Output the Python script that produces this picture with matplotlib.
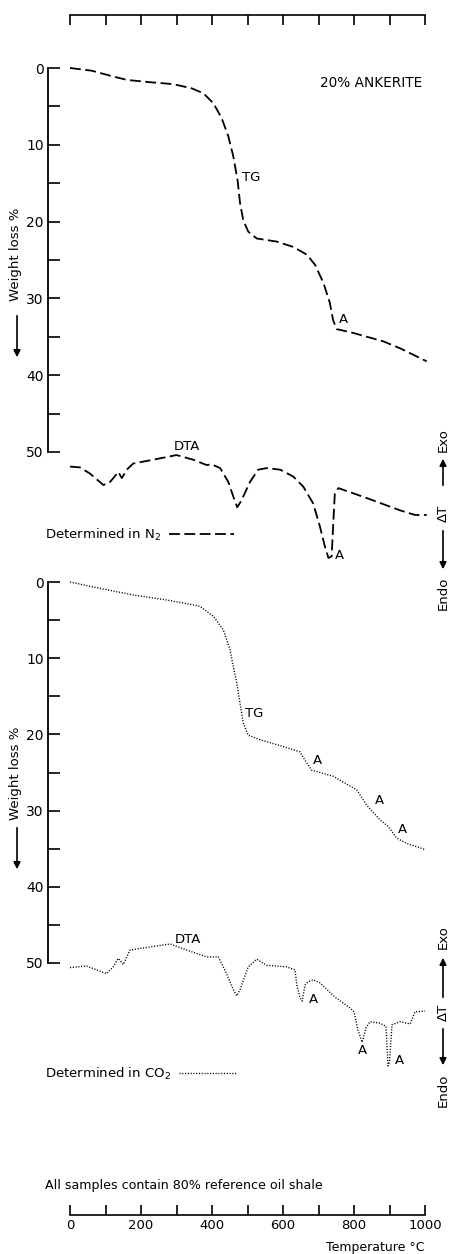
import matplotlib
matplotlib.use("Agg")
import matplotlib.pyplot as plt
from matplotlib.lines import Line2D

plt.rcParams['font.family'] = ['DejaVu Sans']

# ---- data ----
# TG in N2 (weight loss %)
tg_n2_temp = [0, 61, 113, 160, 225, 291, 343, 376, 404, 427, 446, 460, 472, 479, 488, 502,
              526, 582, 629, 667, 690, 714, 732, 741, 751, 798, 883, 930, 1005]
tg_n2_loss = [0, 0.35, 1.0, 1.55, 1.85, 2.1, 2.65, 3.3, 4.6, 6.5, 8.9, 11.5, 14.6, 17.6, 19.8, 21.3,
              22.2, 22.6, 23.3, 24.3, 25.6, 28.0, 30.6, 32.8, 34.0, 34.5, 35.6, 36.5, 38.2]

# DTA in N2 (arbitrary, given on the weight-loss scale)
dta_n2_temp = [0, 28, 56, 94, 113, 136, 146, 160, 178, 235, 300, 347, 385, 399, 423, 446, 460,
               471, 483, 507, 530, 554, 592, 629, 657, 685, 704, 718, 728, 737, 742, 746, 756,
               836, 930, 972, 1005]
dta_n2_val = [51.9, 52.0, 52.8, 54.3, 53.9, 52.6, 53.4, 52.3, 51.5, 51.0, 50.4, 51.0, 51.7, 51.6,
              52.1, 53.9, 55.8, 57.2, 56.3, 53.9, 52.3, 52.1, 52.3, 53.2, 54.5, 56.7, 59.7, 62.3,
              63.8, 63.6, 58.9, 55.4, 54.7, 56.0, 57.6, 58.2, 58.2]

# TG in CO2
tg_co2_temp = [0, 84, 178, 272, 347, 366, 404, 432, 451, 460, 470, 479, 488, 502, 535, 601, 648,
               662, 681, 742, 808, 836, 873, 897, 920, 948, 1000]
tg_co2_loss = [0, 0.83, 1.7, 2.36, 3.0, 3.2, 4.5, 6.3, 8.9, 11.1, 13.3, 15.9, 18.5, 20.1, 20.7,
               21.6, 22.3, 23.4, 24.7, 25.5, 27.3, 29.3, 31.2, 32.1, 33.6, 34.3, 35.1]

# DTA in CO2
dta_co2_temp = [0, 47, 75, 103, 122, 136, 150, 169, 225, 282, 329, 385, 418, 441, 460, 470, 479,
                502, 526, 554, 610, 634, 639, 648, 654, 662, 670, 685, 704, 747, 789, 800, 811,
                823, 834, 845, 873, 890, 896, 900, 907, 930, 958, 972, 1000]
dta_co2_val = [50.6, 50.4, 50.9, 51.4, 50.5, 49.4, 50.2, 48.3, 47.9, 47.5, 48.3, 49.2, 49.2, 51.4,
               53.5, 54.3, 53.5, 50.5, 49.5, 50.3, 50.5, 50.9, 52.9, 54.6, 55.0, 52.9, 52.5, 52.2,
               52.6, 54.5, 55.9, 56.4, 58.8, 60.4, 58.5, 57.7, 57.9, 58.3, 63.5, 63.0, 58.1, 57.7,
               58.0, 56.4, 56.3]

weight_major = [0, 10, 20, 30, 40, 50]
weight_minor = [5, 15, 25, 35, 45]
temp_ticks = [0, 200, 400, 600, 800, 1000]
temp_minor = [100, 300, 500, 700, 900]

# ---- layout helpers (pixels -> figure) ----
W, H = 453, 1254
fig = plt.figure(figsize=(W / 100, H / 100), dpi=100)


def fx(px):
    return px / W


def fy(py):
    return 1 - py / H


X0, X1 = 70, 425


def xd(px):
    return (px - X0) * 1000 / (X1 - X0)


def panel(top_px, bot_px, zero_px, fifty_px):
    ax = fig.add_axes([0, fy(bot_px), 1, (bot_px - top_px) / H])
    ax.set_xlim(xd(0), xd(W))
    k = (fifty_px - zero_px) / 50
    ax.set_ylim((bot_px - zero_px) / k, (top_px - zero_px) / k)
    ax.patch.set_visible(False)
    for s in ['top', 'right', 'bottom']:
        ax.spines[s].set_visible(False)
    ax.spines['left'].set_position(('data', xd(48)))
    ax.spines['left'].set_bounds(0, 50)
    ax.spines['left'].set_linewidth(1.3)
    ax.set_yticks(weight_major)
    ax.set_yticklabels([str(v) for v in weight_major])
    ax.set_yticks(weight_minor, minor=True)
    ax.tick_params(axis='y', which='both', direction='in', length=8.6, width=1.2,
                   labelsize=10, pad=3)
    ax.set_xticks([])
    return ax


ax1 = panel(30, 575, 68, 452)
ax2 = panel(575, 1110, 582, 963)

dash_kw = dict(color='black', lw=1.3, dashes=(6, 2.5), clip_on=False)
dot_kw = dict(color='black', lw=1.0, dashes=(0.8, 1.2), clip_on=False)

ax1.plot(tg_n2_temp, tg_n2_loss, **dash_kw)
ax1.plot(dta_n2_temp, dta_n2_val, **dash_kw)
ax2.plot(tg_co2_temp, tg_co2_loss, **dot_kw)
ax2.plot(dta_co2_temp, dta_co2_val, **dot_kw)

fs = 9.5
ax1.text(485, 14.3, "TG", fontsize=fs, va='center')
ax1.text(757, 32.8, "A", fontsize=fs, va='center')
ax1.text(992, 2.0, "20% ANKERITE", fontsize=9.8, va='center', ha='right')
ax1.text(329, 49.3, "DTA", fontsize=fs, va='center', ha='center')
ax1.text(745, 63.5, "A", fontsize=fs, va='center')

ax2.text(492, 17.2, "TG", fontsize=fs, va='center')
ax2.text(684, 23.4, "A", fontsize=fs, va='center')
ax2.text(858, 28.7, "A", fontsize=fs, va='center')
ax2.text(925, 32.5, "A", fontsize=fs, va='center')
ax2.text(333, 46.9, "DTA", fontsize=fs, va='center', ha='center')
ax2.text(673, 54.8, "A", fontsize=fs, va='center')
ax2.text(811, 61.5, "A", fontsize=fs, va='center')
ax2.text(914, 62.8, "A", fontsize=fs, va='center')

# legends ("Determined in ...")
h1 = Line2D([], [], **{k: v for k, v in dash_kw.items() if k != 'clip_on'})
h2 = Line2D([], [], **{k: v for k, v in dot_kw.items() if k != 'clip_on'})
fig.legend([h1], [r"Determined in N$_2$"], loc='center left', bbox_to_anchor=(fx(33), fy(535)),
           frameon=False, markerfirst=False, handlelength=4.9, handletextpad=0.6, fontsize=fs)
fig.legend([h2], [r"Determined in CO$_2$"], loc='center left', bbox_to_anchor=(fx(33), fy(1074)),
           frameon=False, markerfirst=False, handlelength=4.4, handletextpad=0.6, fontsize=fs)

# weight-loss axis titles with arrows
arrow_kw = dict(arrowstyle='-|>', lw=1.2, color='black', mutation_scale=10)
for c_txt, a0, a1 in [(254, 313, 360), (773, 825, 872)]:
    fig.text(fx(15), fy(c_txt), "Weight loss %", rotation=90, fontsize=fs,
             ha='center', va='center')
    fig.patches.append(matplotlib.patches.FancyArrowPatch(
        (fx(17), fy(a0)), (fx(17), fy(a1)), transform=fig.transFigure, **arrow_kw))

# Exo / dT / Endo markers at the right
for exo_y, up0, up1, dt_y, dn0, dn1, endo_y in [(440, 488, 456, 513, 528, 572, 593),
                                                (937, 1000, 955, 1012, 1026, 1068, 1090)]:
    fig.text(fx(443), fy(exo_y), "Exo", rotation=90, fontsize=fs, ha='center', va='center')
    fig.text(fx(443), fy(dt_y), "ΔT", rotation=90, fontsize=fs, ha='center', va='center')
    fig.text(fx(443), fy(endo_y), "Endo", rotation=90, fontsize=fs, ha='center', va='center')
    fig.patches.append(matplotlib.patches.FancyArrowPatch(
        (fx(443), fy(up0)), (fx(443), fy(up1)), transform=fig.transFigure, **arrow_kw))
    fig.patches.append(matplotlib.patches.FancyArrowPatch(
        (fx(443), fy(dn0)), (fx(443), fy(dn1)), transform=fig.transFigure, **arrow_kw))

# top temperature scale (no labels)
axt = fig.add_axes([fx(X0), fy(40), (X1 - X0) / W, 25 / H])
axt.set_xlim(0, 1000)
axt.patch.set_visible(False)
for s in ['left', 'right', 'bottom']:
    axt.spines[s].set_visible(False)
axt.spines['top'].set_linewidth(1.2)
axt.set_yticks([])
axt.set_xticks(temp_ticks + temp_minor)
axt.tick_params(axis='x', top=True, bottom=False, labeltop=False, labelbottom=False,
                direction='in', length=7.2, width=1.2)

# bottom temperature scale
axb = fig.add_axes([fx(X0), fy(1215), (X1 - X0) / W, 25 / H])
axb.set_xlim(0, 1000)
axb.patch.set_visible(False)
for s in ['left', 'right', 'top']:
    axb.spines[s].set_visible(False)
axb.spines['bottom'].set_linewidth(1.2)
axb.set_yticks([])
axb.set_xticks(temp_ticks)
axb.set_xticklabels([str(t) for t in temp_ticks])
axb.set_xticks(temp_minor, minor=True)
axb.tick_params(axis='x', which='both', direction='in', length=7.2, width=1.2,
                labelsize=9.5, pad=3)

fig.text(fx(425), fy(1247), "Temperature °C", fontsize=9, ha='right', va='center')
fig.text(fx(45), fy(1185), "All samples contain 80% reference oil shale", fontsize=9.1,
         ha='left', va='center')

fig.savefig("out.png", dpi=100)
